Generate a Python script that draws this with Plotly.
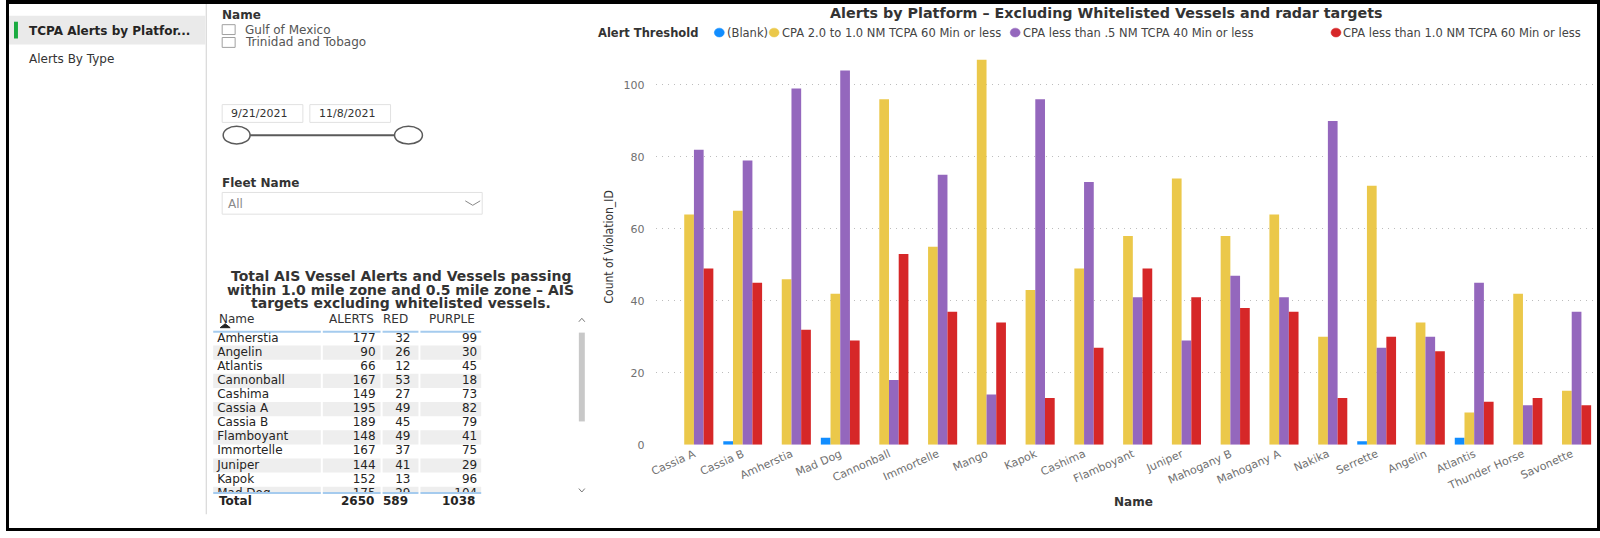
import plotly.graph_objects as go

W, H = 1600, 538

# ---------------- data ----------------
platforms = ["Cassia A", "Cassia B", "Amherstia", "Mad Dog", "Cannonball", "Immortelle",
             "Mango", "Kapok", "Cashima", "Flamboyant", "Juniper", "Mahogany B",
             "Mahogany A", "Nakika", "Serrette", "Angelin", "Atlantis", "Thunder Horse",
             "Savonette"]
blank_vals = [None, 1, None, 2, None, None, None, None, None, None, None, None,
              None, None, 1, None, 2, None, None]
cpa_2_to_1_vals = [64, 65, 46, 42, 96, 55, 107, 43, 49, 58, 74, 58, 64, 30, 72, 34, 9, 42, 15]
cpa_lt_05_vals = [82, 79, 99, 104, 18, 75, 14, 96, 73, 41, 29, 47, 41, 90, 27, 30, 45, 11, 37]
cpa_lt_1_vals = [49, 45, 32, 29, 53, 37, 34, 13, 27, 49, 41, 38, 37, 13, 30, 26, 12, 13, 11]

series_names = ["(Blank)", "CPA 2.0 to 1.0 NM TCPA 60 Min or less",
                "CPA less than .5 NM TCPA 40 Min or less",
                "CPA less than 1.0 NM TCPA 60 Min or less"]
series_colors = ["#118DFF", "#EBC84A", "#9467BD", "#D62728"]
series_values = [blank_vals, cpa_2_to_1_vals, cpa_lt_05_vals, cpa_lt_1_vals]

y_ticks = [0, 20, 40, 60, 80, 100]

# table (alphabetical), derived from the chart values
table_names = sorted(platforms)
idx = {n: i for i, n in enumerate(platforms)}
table_alerts = [cpa_2_to_1_vals[idx[n]] + cpa_lt_05_vals[idx[n]] + cpa_lt_1_vals[idx[n]] for n in table_names]
table_red = [cpa_lt_1_vals[idx[n]] for n in table_names]
table_purple = [cpa_lt_05_vals[idx[n]] for n in table_names]
table_headers = ["Name", "ALERTS", "RED", "PURPLE"]

name_slicer_items = ["Gulf of Mexico", "Trinidad and Tobago"]
date_range = ["9/21/2021", "11/8/2021"]
nav_pages = ["TCPA Alerts by Platfor...", "Alerts By Type"]

FONT = "DejaVu Sans, Verdana, sans-serif"
NARROW = "Liberation Sans Narrow, DejaVu Sans Condensed, sans-serif"
DARK = "#252423"
GRAY = "#707070"


def px(x):
    return x / W


def py(y):
    return 1 - y / H


fig = go.Figure()

# ---------------- main bar chart ----------------
for name, color, vals in zip(series_names, series_colors, series_values):
    fig.add_trace(go.Bar(x=platforms, y=vals, name=name, marker=dict(color=color, line=dict(width=0)),
                         xaxis="x", yaxis="y", showlegend=False))

# ---------------- table as clipped text traces ----------------
rows = list(range(len(table_names)))
fig.add_trace(go.Scatter(x=[212] * len(rows), y=rows, mode="text", text=table_names,
                         textposition="middle right", textfont=dict(family=FONT, size=12, color=DARK),
                         xaxis="x2", yaxis="y2", showlegend=False, hoverinfo="skip", cliponaxis=True))
for xr, col in zip([371, 406, 473], [table_alerts, table_red, table_purple]):
    fig.add_trace(go.Scatter(x=[xr] * len(rows), y=rows, mode="text", text=[str(v) for v in col],
                             textposition="middle left", textfont=dict(family=FONT, size=12, color=DARK),
                             xaxis="x2", yaxis="y2", showlegend=False, hoverinfo="skip", cliponaxis=True))

shapes = []
annotations = []

# table row shading
col_segments = [(208, 316), (318, 376), (378, 414), (416, 477)]
for r in rows:
    if r % 2 == 1:
        for x0, x1 in col_segments:
            shapes.append(dict(type="rect", xref="x2", yref="y2", x0=x0, x1=x1, y0=r - 0.5, y1=r + 0.5,
                               fillcolor="#EEEEEE", line=dict(width=0), layer="below"))

# ---------------- layout ----------------
row_h = 14.3
first_row_y = 343.0
tbl_top, tbl_bot = 336.5, 499.0

fig.update_layout(
    width=W, height=H, margin=dict(l=0, r=0, t=0, b=0),
    paper_bgcolor="white", plot_bgcolor="white",
    barmode="group", bargap=0.204, bargroupgap=0,
    showlegend=False,
    font=dict(family=FONT),
    xaxis=dict(domain=[px(652), 1.0], type="category", range=[-0.787, 18.58],
               tickangle=-24, tickfont=dict(family=FONT, size=11, color=GRAY),
               showgrid=False, zeroline=False, showline=False, ticks=""),
    yaxis=dict(domain=[py(450.7), py(450.7 - 110 * 3.647)], range=[0, 110],
               tickvals=y_ticks, tickfont=dict(family=FONT, size=11, color=GRAY),
               showgrid=True, gridcolor="#BDBDBD", griddash="1px,5px", gridwidth=1,
               zeroline=False, showline=False, ticks="", ticklabelstandoff=10),
    xaxis2=dict(domain=[px(200), px(600)], range=[200, 600], visible=False, anchor="y2"),
    yaxis2=dict(domain=[py(tbl_bot), py(tbl_top)],
                range=[(tbl_bot - first_row_y) / row_h, (tbl_top - first_row_y) / row_h],
                visible=False, anchor="x2"),
)


def txt(x, y, s, size=12, color=DARK, anchor="left", weight=400, family=FONT, angle=0):
    annotations.append(dict(x=px(x), y=py(y), xref="paper", yref="paper", text=s, showarrow=False,
                            xanchor=anchor, yanchor="middle", textangle=angle,
                            font=dict(family=family, size=size, color=color, weight=weight)))


def rect(x0, y0, x1, y1, fill=None, line=None, lw=1):
    shapes.append(dict(type="rect", xref="paper", yref="paper", x0=px(x0), x1=px(x1), y0=py(y1), y1=py(y0),
                       fillcolor=fill if fill else "rgba(0,0,0,0)",
                       line=dict(width=lw if line else 0, color=line if line else "rgba(0,0,0,0)")))


def path(points, color, width=1, fill=None):
    d = "M " + " L ".join(f"{px(x):.5f},{py(y):.5f}" for x, y in points)
    if fill:
        d += " Z"
    shapes.append(dict(type="path", xref="paper", yref="paper", path=d,
                       line=dict(color=color, width=width),
                       fillcolor=fill if fill else "rgba(0,0,0,0)"))


def ellipse(x0, y0, x1, y1, fill, line, lw=1.5):
    shapes.append(dict(type="circle", xref="paper", yref="paper", x0=px(x0), x1=px(x1), y0=py(y1), y1=py(y0),
                       fillcolor=fill, line=dict(color=line, width=lw)))


# left navigation
rect(3, 16, 200, 45, fill="#EAEAEA")
rect(8, 22, 12, 39, fill="#1AAB40")
txt(21, 31, nav_pages[0], size=12, weight=700)
txt(21, 60, nav_pages[1], size=12, color="#333333")
rect(200.5, 4, 201.5, 521, fill="#D0D0D0")

# name slicer
txt(215, 15, "Name", size=12, weight=700, color="#333333")
for i, item in enumerate(name_slicer_items):
    yc = 30 + 13 * i
    rect(217, yc - 5, 230, yc + 5, line="#A0A0A0", lw=1)
    txt(238, yc, item, size=12, color="#555555")

# date slicer
for i, d in enumerate(date_range):
    x0 = 217 + 88 * i
    rect(x0, 106, x0 + 81, 124, line="#E1E1E1", lw=1)
    txt(x0 + 7, 115, d, size=11, color="#333333")
path([(245, 137), (390, 137)], "#5A5A5A", width=2)
ellipse(218, 128, 245, 146, "white", "#5A5A5A")
ellipse(390, 128, 418, 146, "white", "#5A5A5A")

# fleet slicer
txt(215, 185, "Fleet Name", size=12, weight=700, color="#333333")
rect(217, 195, 478, 217, line="#E1E1E1", lw=1)
txt(221, 207, "All", size=12, color="#8A8A8A")
path([(461, 203.5), (468.5, 208), (476, 203.5)], "#888888", width=1)

# table title
for i, line_txt in enumerate(["Total AIS Vessel Alerts and Vessels passing",
                              "within 1.0 mile zone and 0.5 mile zone \u2013 AIS",
                              "targets excluding whitelisted vessels."]):
    txt(396, 280 + 13.5 * i, line_txt, size=14, weight=700, anchor="center", color="#333333")

# table header
hdr_x = [212, 371, 406, 473]
hdr_anchor = ["left", "right", "right", "right"]
for s, x, a in zip(table_headers, hdr_x, hdr_anchor):
    txt(x, 323, s, size=12, color="#333333", anchor=a)
path([(215, 332), (220, 328), (225, 332)], "#222222", width=1, fill="#222222")
for x0, x1 in col_segments:
    path([(x0, 336), (x1, 336)], "#A5CBEE", width=2)
    path([(x0, 499.5), (x1, 499.5)], "#A5CBEE", width=2)

# total row
tot_vals = [sum(table_alerts), sum(table_red), sum(table_purple)]
txt(212, 508, "Total", size=12, weight=700)
for x, v in zip(hdr_x[1:], tot_vals):
    txt(x, 508, str(v), size=12, weight=700, anchor="right")

# scrollbar
path([(575, 326), (578, 322.5), (581, 326)], "#777777", width=1)
rect(575, 337, 581, 427, fill="#C8C8C8")
path([(575, 495), (578, 498.5), (581, 495)], "#777777", width=1)

# chart title
txt(1105, 13, "Alerts by Platform \u2013 Excluding Whitelisted Vessels and radar targets",
    size=14.3, weight=700, color="#333333", anchor="center")

# legend
txt(592, 33, "Alert Threshold", size=11.5, weight=700, color="#333333")
legend_circle_x = [716, 771, 1013, 1335]
for cx, name, color in zip(legend_circle_x, series_names, series_colors):
    ellipse(cx - 5, 28.5, cx + 5, 37.5, color, color, lw=0.5)
    txt(cx + 5.5, 33, name, size=11.5, color="#444444")

# axis titles
txt(605, 250, "Count of Violation_ID", size=12, color="#333333", anchor="center", family=NARROW, angle=-90)
txt(1132, 509, "Name", size=12, weight=700, color="#333333", anchor="center")

# black frame
rect(0, 0, 1600, 4, fill="black")
rect(0, 535, 1600, 538, fill="black")
rect(0, 0, 3, 538, fill="black")
rect(1597, 0, 1600, 538, fill="black")

fig.update_layout(shapes=shapes, annotations=annotations)
fig.write_html("out.html")
